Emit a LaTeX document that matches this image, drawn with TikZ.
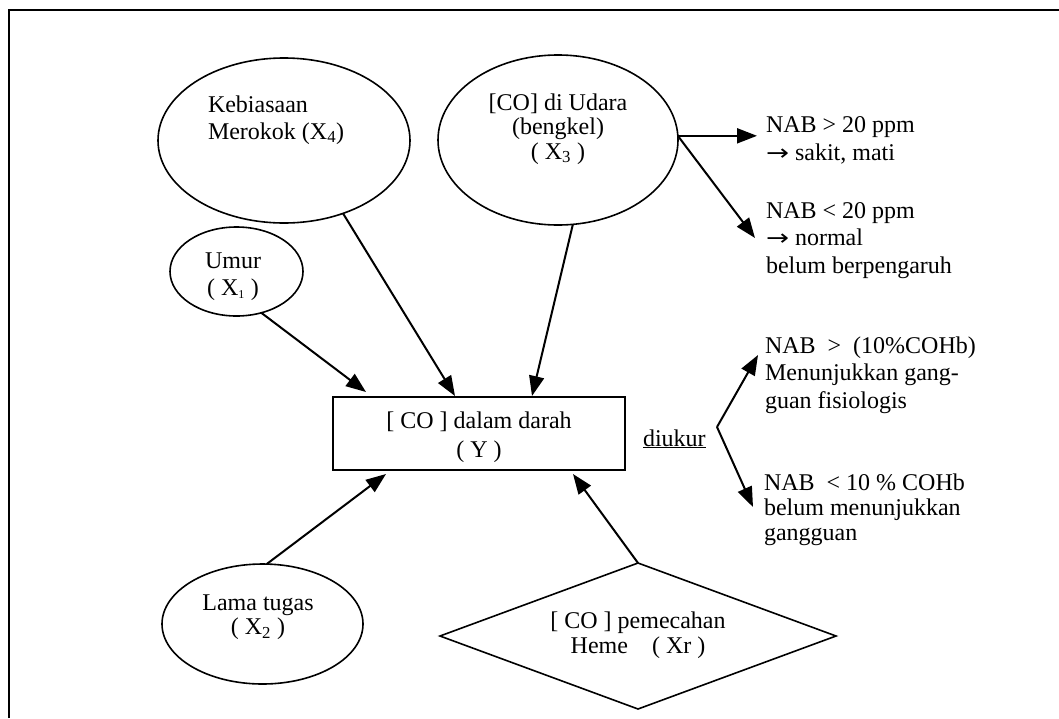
\documentclass[tikz,border=0pt]{standalone}
\usepackage{graphicx}
\usepackage{fontspec}
\setmainfont{Liberation Serif}
\newfontfamily\arrowfont{DejaVu Sans}
\newcommand{\rarr}{{\arrowfont\fontsize{22}{22}\selectfont\scalebox{1.25}[1]{→}}}
\usetikzlibrary{arrows.meta,shapes.geometric,calc}
\begin{document}
\begin{tikzpicture}[x=1pt,y=-1pt,
  shp/.style={draw,line width=1.6pt,inner sep=0pt,outer sep=0pt},
  ell/.style={shp,ellipse},
  txt/.style={inner sep=0pt,outer sep=0pt,font=\fontsize{24}{27}\selectfont},
  arr/.style={line width=2pt,-{Triangle[length=20pt,width=15pt]}},
]
\fill[white] (0,0) rectangle (1059,718);
\useasboundingbox (0,0) rectangle (1059,718);
\draw[line width=2pt] (9,718) -- (9,10) -- (1059,10);

% shapes
\node[ell,minimum width=252pt,minimum height=165pt] (keb) at (284,140.5) {};
\node[ell,minimum width=240pt,minimum height=170pt] (co) at (558,140) {};
\node[ell,minimum width=133pt,minimum height=89pt] (umur) at (236.5,271.5) {};
\node[ell,minimum width=201pt,minimum height=120pt] (lama) at (262.5,624) {};
\node[shp,rectangle,minimum width=292pt,minimum height=73pt] (box) at (479,433.5) {};
\node[shp,diamond,minimum width=396pt,minimum height=146pt] (dia) at (638,636) {};

% texts in shapes (anchor = baseline of the last line)
\node[txt,anchor=base west,align=left] (kebt) at (208,139) {Kebiasaan\\Merokok (X\textsubscript{4})};
\node[txt,anchor=base,align=center,font=\fontsize{24}{24.5}\selectfont] (cot) at (558,159) {[CO] di Udara\\(bengkel)\\( X\textsubscript{3} )};
\node[txt,anchor=base,align=center] (umurt) at (233,295) {Umur\\( X\textsubscript{\fontsize{12}{12}\selectfont 1} )};
\node[txt,anchor=base,align=center,font=\fontsize{24}{24.5}\selectfont] (lamat) at (258,634.5) {Lama tugas\\( X\textsubscript{2} )};
\node[txt,anchor=base,align=center,font=\fontsize{24}{29}\selectfont] (boxt) at (479,457) {[ CO ] dalam darah\\( Y )};
\node[txt,anchor=base,align=center,font=\fontsize{24}{25}\selectfont] (diat) at (638,653) {[ CO ] pemecahan\\Heme\ \ \ \ ( Xr )};

% right-hand texts
\node[txt,anchor=base west,align=left,font=\fontsize{24}{28}\selectfont] (nab1) at (766,160) {NAB > 20 ppm\\\rarr{} sakit, mati};
\node[txt,anchor=base west,align=left,font=\fontsize{24}{27.5}\selectfont] (nab2) at (766,273) {NAB < 20 ppm\\\rarr{} normal\\belum berpengaruh};
\node[txt,anchor=base west] (diuk) at (643,446) {\underline{diukur}};
\node[txt,anchor=base west,align=left,font=\fontsize{24}{27.5}\selectfont] (nab3) at (765,408) {NAB\ \ >\ \ (10\%COHb)\\Menunjukkan gang-\\guan fisiologis};
\node[txt,anchor=base west,align=left,font=\fontsize{24}{25}\selectfont] (nab4) at (764,540) {NAB\ \ < 10 \% COHb\\belum menunjukkan\\gangguan};

% arrows into Y
\draw[arr] (umur.-59) -- ($(box.north west)+(33,-5)$);
\draw[arr] (keb.-51) -- ($(box.north west)+(122,-1)$);
\draw[arr] (co.-80) -- ($(box.north west)+(199,-1)$);
\draw[arr] (lama.86) -- ($(box.south west)+(53,4)$);
\draw[arr] (dia.north) -- ($(box.south west)+(240,4)$);

% branches
\coordinate (v1) at (co.2);
\coordinate (t2) at (755,238);
\draw[arr,shorten >=9pt] (v1) -- (v1 -| nab1.west);
\draw[arr] (v1) -- (t2);
\coordinate (v2) at (717,427);
\coordinate (t3) at (758,355);
\coordinate (t4) at (753,507);
\draw[arr] (v2) -- (t3);
\draw[arr] (v2) -- (t4);
\end{tikzpicture}
\end{document}
